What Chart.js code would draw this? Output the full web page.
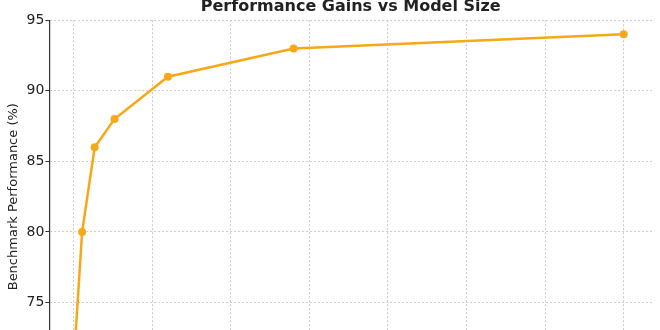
<!DOCTYPE html>
<html>
<head>
<meta charset="utf-8">
<script src="https://cdn.jsdelivr.net/npm/chart.js@4.4.1/dist/chart.umd.min.js"></script>
<style>
  html, body { margin: 0; padding: 0; background: #fff; }
  #wrap { width: 660px; height: 330px; overflow: hidden; position: relative; }
  #chart { position: absolute; left: 0; top: -5px; }
</style>
</head>
<body>
<div id="wrap">
  <canvas id="chart" width="660" height="405"></canvas>
</div>
<script>
// model size (billions of parameters) and benchmark score (%)
const modelSizes = [0.125, 2.7, 6.7, 13, 30, 70, 175];
const scores = [71, 80, 86, 88, 91, 93, 94];
const yTicks = [70, 75, 80, 85, 90, 95];
const xTicks = [0, 25, 50, 75, 100, 125, 150, 175];

const lineColor = '#f7a816';
const gridColor = '#cccccc';
const font = "'DejaVu Sans', sans-serif";

const ctx = document.querySelector('#chart').getContext('2d');

new Chart(ctx, {
    type: 'line',
    data: {
        datasets: [{
            label: 'Benchmark Performance',
            data: modelSizes.map((x, i) => ({ x: x, y: scores[i] })),
            borderColor: lineColor,
            backgroundColor: lineColor,
            borderWidth: 2.5,
            pointRadius: 4,
            pointBorderWidth: 0,
            tension: 0
        }]
    },
    options: {
        responsive: false,
        animation: false,
        layout: { padding: { left: 6, right: 8, top: 0, bottom: 0 } },
        plugins: {
            legend: { display: false },
            tooltip: { enabled: false },
            title: {
                display: true,
                text: 'Performance Gains vs Model Size',
                fullSize: false,
                color: '#222',
                font: { family: font, size: 16, weight: 'bold' },
                padding: { top: 2, bottom: 4 }
            }
        },
        scales: {
            x: {
                type: 'linear',
                min: -7.7,
                max: 184,
                afterBuildTicks: axis => { axis.ticks = xTicks.map(v => ({ value: v })); },
                ticks: { color: '#222', font: { family: font, size: 14 } },
                grid: {
                    color: gridColor,
                    tickBorderDash: [],
                    tickColor: '#333',
                    tickLength: 4
                },
                border: { color: '#333', width: 1.2, dash: [2, 2] }
            },
            y: {
                min: 70,
                max: 95,
                afterBuildTicks: axis => { axis.ticks = yTicks.map(v => ({ value: v })); },
                ticks: { color: '#222', font: { family: font, size: 14 }, padding: 1 },
                grid: {
                    color: gridColor,
                    tickBorderDash: [],
                    tickColor: '#333',
                    tickLength: 4
                },
                border: { color: '#333', width: 1.2, dash: [2, 2] },
                title: {
                    display: true,
                    text: 'Benchmark Performance (%)',
                    color: '#222',
                    font: { family: font, size: 13 },
                    padding: { top: 0, bottom: 4 }
                }
            }
        }
    }
});
</script>
</body>
</html>
